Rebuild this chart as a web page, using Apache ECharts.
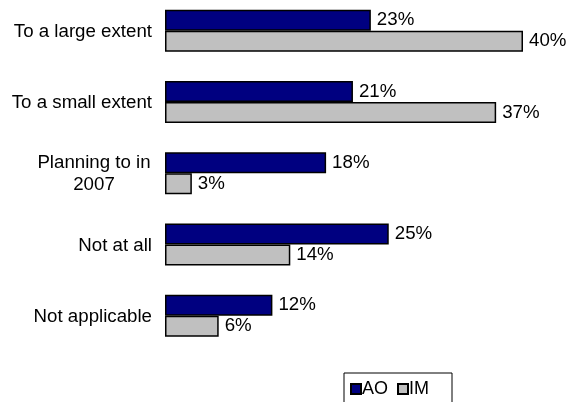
<!DOCTYPE html>
<html>
<head>
<meta charset="utf-8">
<script src="https://cdn.jsdelivr.net/npm/echarts@6/dist/echarts.min.js"></script>
<style>
  html, body { margin: 0; padding: 0; background: #fff; overflow: hidden; }
  #main { position: absolute; left: 0; top: -5px; width: 569px; height: 407px; }
</style>
</head>
<body>
<div id="main"></div>
<script>
// categories top to bottom
var categories = ['To a large extent', 'To a small extent', 'Planning to in\n2007', 'Not at all', 'Not applicable'];
var aoValues = [23, 21, 18, 25, 12];
var imValues = [40, 37, 3, 14, 6];

var chart = echarts.init(document.getElementById('main'));
var fontSize = 18.7;

var labelStyle = {
    show: true,
    position: 'right',
    distance: 6,
    formatter: '{c}%',
    color: '#000',
    fontSize: fontSize
};

chart.setOption({
    animation: false,
    textStyle: { fontFamily: 'Liberation Sans, Arial, sans-serif' },
    grid: { left: 165, right: 46, top: 0, bottom: 50.5, containLabel: false },
    xAxis: {
        type: 'value',
        min: 0,
        max: 40,
        show: false
    },
    yAxis: {
        type: 'category',
        inverse: true,
        data: categories,
        axisLine: { show: false },
        axisTick: { show: false },
        axisLabel: {
            margin: 13,
            color: '#000',
            align: 'right',
            formatter: function(v) {
                // 多行标签居中对齐
                if (v.indexOf('\n') >= 0) {
                    return v.split('\n').map(function(s) { return '{c|' + s + '}'; }).join('\n');
                }
                return '{n|' + v + '}';
            },
            rich: {
                c: { fontSize: fontSize, width: 116, align: 'center', lineHeight: 22, color: '#000', padding: [2, 0, 0, 0] },
                n: { fontSize: fontSize, color: '#000', padding: [2, 0, 0, 0] }
            }
        }
    },
    legend: {
        left: 344,
        top: 378,
        padding: [7, 23, 20, 6],
        borderColor: '#000',
        borderWidth: 1,
        itemWidth: 10,
        itemHeight: 10,
        itemGap: 9,
        icon: 'rect',
        textStyle: { fontSize: 18, color: '#000', padding: [0, 0, 0, -4] },
        data: ['AO', 'IM']
    },
    series: [{
        name: 'AO',
        type: 'bar',
        data: aoValues,
        barWidth: 21,
        barGap: '0%',
        itemStyle: { color: '#000080', borderColor: '#000', borderWidth: 1.5 },
        label: labelStyle
    }, {
        name: 'IM',
        type: 'bar',
        data: imValues,
        barWidth: 21,
        itemStyle: { color: '#c0c0c0', borderColor: '#000', borderWidth: 1.5 },
        label: labelStyle
    }]
});
</script>
</body>
</html>
